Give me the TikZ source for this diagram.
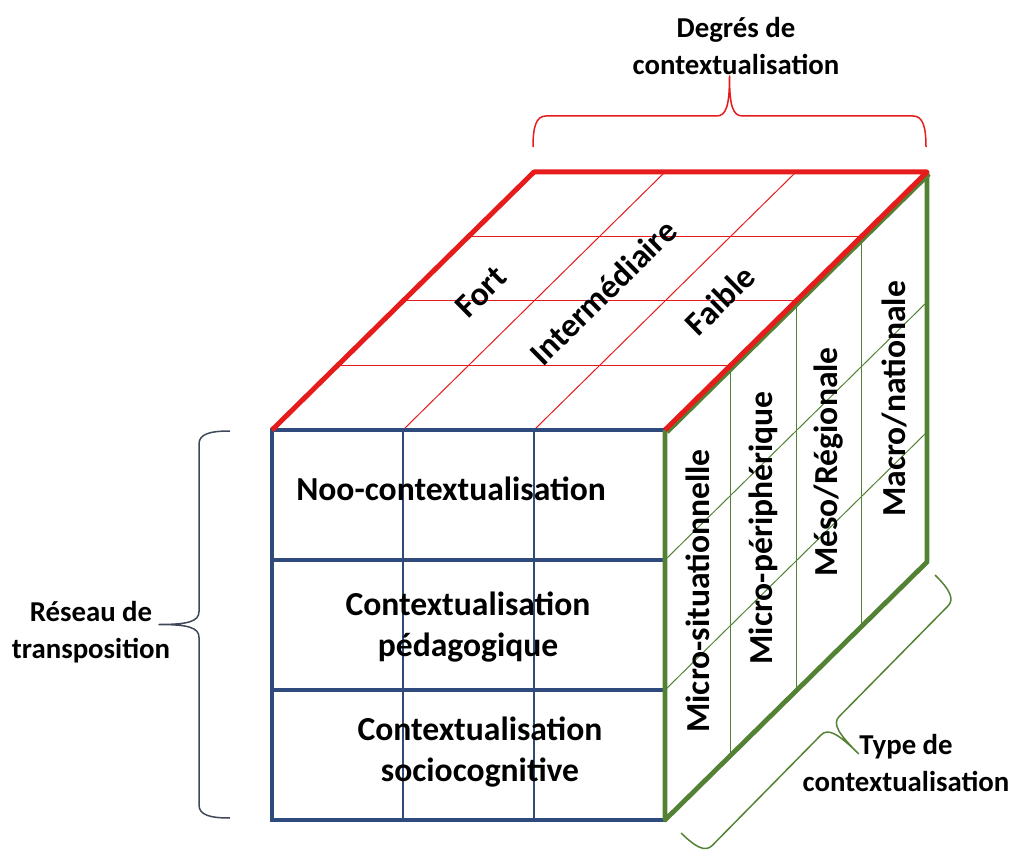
\documentclass[tikz,border=0pt]{standalone}
\usepackage{fontspec}
\setmainfont{Carlito}
\usetikzlibrary{calc}
\definecolor{cubered}{RGB}{230,28,28}
\definecolor{cubeblue}{RGB}{47,75,125}
\definecolor{cubegreen}{RGB}{84,130,53}
\definecolor{bracegray}{RGB}{62,72,88}
\tikzset{
    redsty/.style={draw=cubered, line width=5pt, line join=round},
    redgrid/.style={draw=cubered, line width=1pt},
    bluesty/.style={draw=cubeblue, line width=4.2pt},
    bluegrid/.style={draw=cubeblue, line width=1.2pt},
    greensty/.style={draw=cubegreen, line width=4.8pt, line join=round},
    greengrid/.style={draw=cubegreen, line width=1pt},
    facesty/.style={font=\fontsize{33.6}{41}\selectfont\bfseries, align=center, inner sep=0pt},
    lblsty/.style={font=\fontsize{28.8}{37}\selectfont\bfseries, align=center, inner sep=0pt},
    bracesty/.style={line width=1.5pt, line join=round},
}
% curly brace of length #1, bulging to negative y
\newcommand{\cbrace}[1]{(0,0) .. controls (0,-20) and (3,-31) .. (13,-31) -- ({#1/2-13},-31) .. controls ({#1/2-3},-31) and ({#1/2},-42) .. ({#1/2},-71) .. controls ({#1/2},-42) and ({#1/2+3},-31) .. ({#1/2+13},-31) -- ({#1-13},-31) .. controls ({#1-3},-31) and (#1,-20) .. (#1,0)}

\begin{document}
\begin{tikzpicture}[x=1pt, y=-1pt]
\useasboundingbox (0,0) rectangle (1015,850);

% corners of the cube
\coordinate (ftl) at (272,430);
\coordinate (ftr) at (665,430);
\coordinate (fbl) at (272,820);
\coordinate (fbr) at (665,820);
\coordinate (btl) at (534,172);
\coordinate (btr) at (927,172);
\coordinate (bbr) at (927,562);

% top face grid
\draw[redgrid] ($(ftl)!0.25!(btl)$) -- ($(ftr)!0.25!(btr)$);
\draw[redgrid] ($(ftl)!0.5!(btl)$) -- ($(ftr)!0.5!(btr)$);
\draw[redgrid] ($(ftl)!0.75!(btl)$) -- ($(ftr)!0.75!(btr)$);
\draw[redgrid] ($(ftl)!0.3333!(ftr)$) -- ($(btl)!0.3333!(btr)$);
\draw[redgrid] ($(ftl)!0.6667!(ftr)$) -- ($(btl)!0.6667!(btr)$);

% right face grid
\draw[greengrid] ($(ftr)!0.25!(btr)$) -- ($(fbr)!0.25!(bbr)$);
\draw[greengrid] ($(ftr)!0.5!(btr)$) -- ($(fbr)!0.5!(bbr)$);
\draw[greengrid] ($(ftr)!0.75!(btr)$) -- ($(fbr)!0.75!(bbr)$);
\draw[greengrid] ($(ftr)!0.3333!(fbr)$) -- ($(btr)!0.3333!(bbr)$);
\draw[greengrid] ($(ftr)!0.6667!(fbr)$) -- ($(btr)!0.6667!(bbr)$);

% front face
\draw[bluegrid] ($(ftl)!0.3333!(ftr)$) -- ($(fbl)!0.3333!(fbr)$);
\draw[bluegrid] ($(ftl)!0.6667!(ftr)$) -- ($(fbl)!0.6667!(fbr)$);
\draw[bluesty] ($(ftl)!0.3333!(fbl)$) -- ($(ftr)!0.3333!(fbr)$);
\draw[bluesty] ($(ftl)!0.6667!(fbl)$) -- ($(ftr)!0.6667!(fbr)$);
\draw[bluesty] (ftl) rectangle (fbr);

% outlines
\draw[greensty] (ftr) -- (fbr) -- (bbr) -- (btr);
\draw[greensty] ([shift={(2,2)}]ftr) -- ([shift={(2,2)}]btr);
\draw[redsty] (ftl) -- (btl) -- (btr) -- (ftr);

% texts on the faces
\node[facesty] (noo) at (451,489) {Noo-contextualisation};
\node[facesty] (peda) at (468,627) {Contextualisation\\pédagogique};
\node[facesty] (socio) at (480,752) {Contextualisation\\sociocognitive};

\node[facesty, rotate=44.6] (fort) at (481,292) {Fort};
\node[facesty, rotate=44.6] (inter) at (603,292) {Intermédiaire};
\node[facesty, rotate=44.6] (faible) at (720,300) {Faible};

\node[facesty, rotate=90] (micros) at (697.5,591) {Micro-situationnelle};
\node[facesty, rotate=90] (microp) at (763,528) {Micro-périphérique};
\node[facesty, rotate=90] (meso) at (828.5,462) {Méso/Régionale};
\node[facesty, rotate=90] (macro) at (894,399) {Macro/nationale};

% braces and their labels
\begin{scope}[shift={(533,147)}]
  \draw[bracesty, draw=cubered] \cbrace{393};
\end{scope}
\begin{scope}[shift={(230,818)}, rotate=90]
  \draw[bracesty, draw=bracegray] \cbrace{387};
\end{scope}
\begin{scope}[shift={(935,575)}, rotate=225.45]
  \draw[bracesty, draw=cubegreen] \cbrace{362};
\end{scope}

\node[lblsty] (degres) at (736,46) {Degrés de\\contextualisation};
\node[lblsty] (reseau) at (91,632) {Réseau de\\transposition};
\node[lblsty] (type) at (906,763) {Type de\\contextualisation};
\end{tikzpicture}
\end{document}
